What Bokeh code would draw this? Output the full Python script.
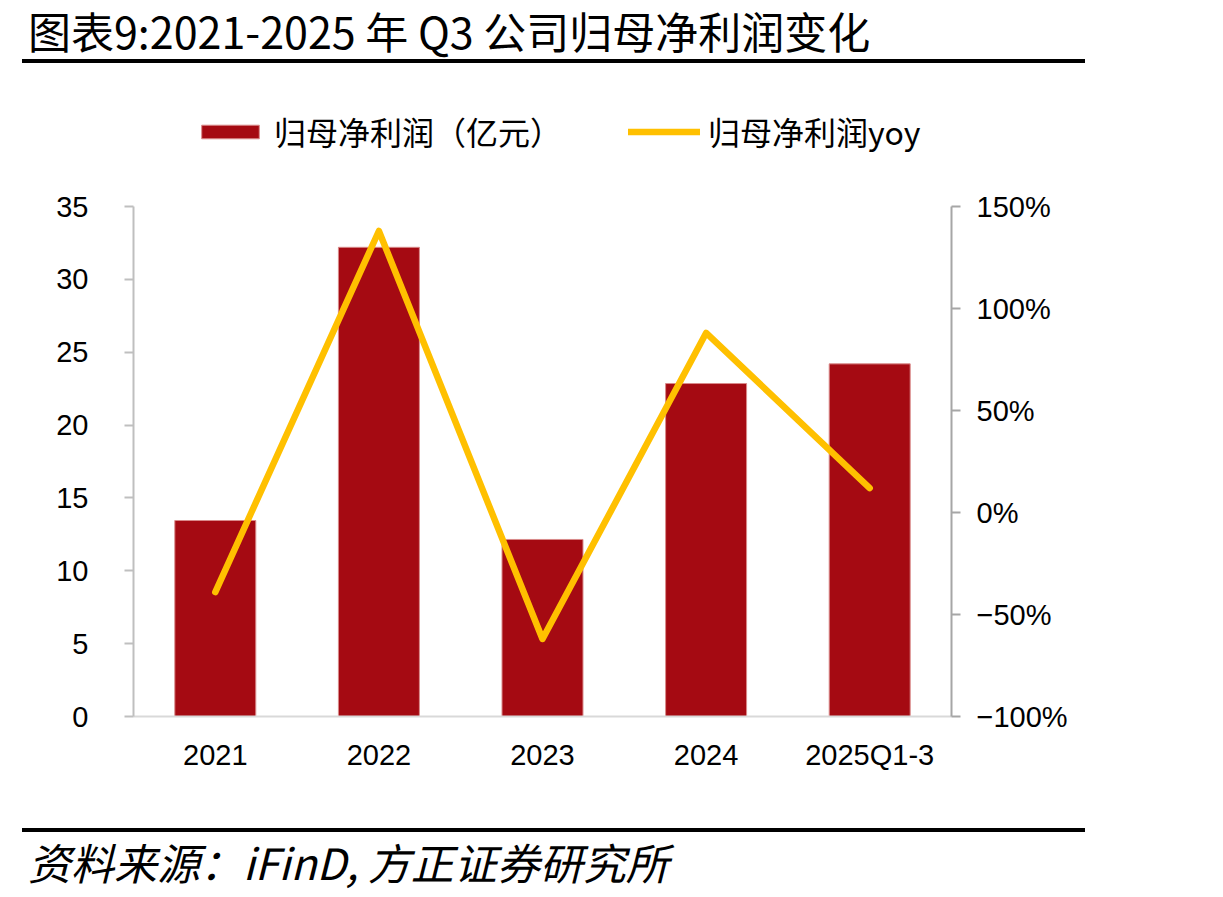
from bokeh.plotting import figure
from bokeh.layouts import column
from bokeh.models import (ColumnDataSource, FactorRange, Range1d, LinearAxis,
                          FixedTicker, Legend, LegendItem, Div)
from bokeh.embed import file_html
from bokeh.resources import INLINE

# Net profit attributable to parent (100m CNY) and its year-on-year change
years = ["2021", "2022", "2023", "2024", "2025Q1-3"]
profit = [13.45, 32.2, 12.15, 22.85, 24.2]
yoy = [-0.39, 1.38, -0.62, 0.88, 0.12]

left_ticks = [0, 5, 10, 15, 20, 25, 30, 35]
yoy_ticks = [-1.0, -0.5, 0.0, 0.5, 1.0, 1.5]
yoy_tick_labels = ["\u2212100%", "\u221250%", "0%", "50%", "100%", "150%"]

title_text = "图表9:2021-2025 年 Q3 公司归母净利润变化"
source_text = "资料来源：iFinD, 方正证券研究所"
bar_name = "归母净利润（亿元）"
line_name = "归母净利润yoy"

BAR_COLOR = "#A50A12"
LINE_COLOR = "#FFC000"
CJK = "Noto Sans CJK SC"
NUM = "Liberation Sans"

W = 1223
HEAD_H, FOOT_H = 66, 71
FIG_H = 897 - HEAD_H - FOOT_H

# page rows of the plotted value axes
AX_TOP, AX_BOT = 206, 716          # rows of 35 / 150% and 0 / -100%
FRAME_TOP = 100                    # frame reaches up to hold the legend
FL, FR = 133, 951

left_lo, left_hi = 0, 35
yoy_lo, yoy_hi = -1.0, 1.5
px_left = (AX_BOT - AX_TOP) / (left_hi - left_lo)
px_yoy = (AX_BOT - AX_TOP) / (yoy_hi - yoy_lo)
extra = AX_TOP - FRAME_TOP

src = ColumnDataSource(dict(year=years, profit=profit, yoy=yoy))

p = figure(width=W, height=FIG_H, x_range=FactorRange(*years),
           y_range=Range1d(left_lo, left_hi + extra / px_left),
           output_backend="svg", toolbar_location=None, tools="",
           min_border_left=FL, min_border_right=W - FR,
           min_border_top=FRAME_TOP - HEAD_H,
           min_border_bottom=HEAD_H + FIG_H - AX_BOT, margin=0)
p.extra_y_ranges = {"yoy": Range1d(yoy_lo, yoy_hi + extra / px_yoy)}
p.outline_line_color = None
p.xgrid.grid_line_color = None
p.ygrid.grid_line_color = None
p.background_fill_color = "white"
p.border_fill_color = "white"

bars = p.vbar(x="year", top="profit", width=0.495, source=src,
              fill_color=BAR_COLOR, line_color="#D98A8A", line_width=1)
line = p.line(x="year", y="yoy", source=src, y_range_name="yoy",
              line_color=LINE_COLOR, line_width=6.5,
              line_join="round", line_cap="round")

# left axis
ya = p.yaxis[0]
ya.ticker = FixedTicker(ticks=left_ticks)
ya.bounds = (left_lo, left_hi)
ya.axis_line_color = "#BFBFBF"
ya.axis_line_width = 2
ya.major_tick_line_color = "#BFBFBF"
ya.major_tick_line_width = 2
ya.major_tick_out = 9
ya.major_tick_in = 0
ya.minor_tick_line_color = None
ya.major_label_text_font = NUM
ya.major_label_text_font_size = "29px"
ya.major_label_text_color = "#000000"
ya.major_label_standoff = 36

# right axis
ra = LinearAxis(y_range_name="yoy", ticker=FixedTicker(ticks=yoy_ticks))
ra.bounds = (yoy_lo, yoy_hi)
ra.major_label_overrides = {t: s for t, s in zip(yoy_ticks, yoy_tick_labels)}
ra.axis_line_color = "#A6A6A6"
ra.axis_line_width = 2
ra.major_tick_line_color = "#A6A6A6"
ra.major_tick_line_width = 2
ra.major_tick_out = 9
ra.major_tick_in = 0
ra.minor_tick_line_color = None
ra.major_label_text_font = NUM
ra.major_label_text_font_size = "29px"
ra.major_label_text_color = "#000000"
ra.major_label_standoff = 16
p.add_layout(ra, "right")

# category axis
xa = p.xaxis[0]
xa.axis_line_color = "#D9D9D9"
xa.axis_line_width = 2
xa.major_tick_line_color = None
xa.minor_tick_line_color = None
xa.major_label_text_font = NUM
xa.major_label_text_font_size = "29px"
xa.major_label_text_color = "#000000"
xa.major_label_standoff = 16

# legend in the band above the value axes
legend = Legend(items=[LegendItem(label=bar_name, renderers=[bars]),
                       LegendItem(label=line_name, renderers=[line])],
                orientation="horizontal", location=(61, 562),
                glyph_width=72, glyph_height=17, label_standoff=8,
                spacing=66, padding=0, margin=0,
                label_text_font=CJK, label_text_font_size="32px",
                label_text_color="#000000",
                border_line_color=None, background_fill_alpha=0)
p.add_layout(legend, "center")

# heading with its rule, and the source note under a rule
head = Div(width=W, height=HEAD_H, margin=0, text=(
    '<div style="position:relative;width:%dpx;height:%dpx;">'
    '<div style="position:absolute;left:28px;top:9px;white-space:nowrap;'
    "font-family:'Noto Sans CJK SC';font-size:43px;line-height:43px;color:#000;\">%s</div>"
    '<div style="position:absolute;left:22px;top:59px;width:1063px;height:4px;background:#000;"></div>'
    '</div>') % (W, HEAD_H, title_text))
foot = Div(width=W, height=FOOT_H, margin=0, text=(
    '<div style="position:relative;width:%dpx;height:%dpx;">'
    '<div style="position:absolute;left:22px;top:2px;width:1063px;height:4px;background:#000;"></div>'
    '<div style="position:absolute;left:28px;top:14px;white-space:nowrap;font-style:italic;'
    "font-family:'Noto Sans CJK SC';font-size:43px;line-height:43px;color:#000;\">%s</div>"
    '</div>') % (W, FOOT_H, source_text))

page = column(head, p, foot, spacing=0, margin=0)

open("out.html", "w").write(file_html(page, INLINE))
